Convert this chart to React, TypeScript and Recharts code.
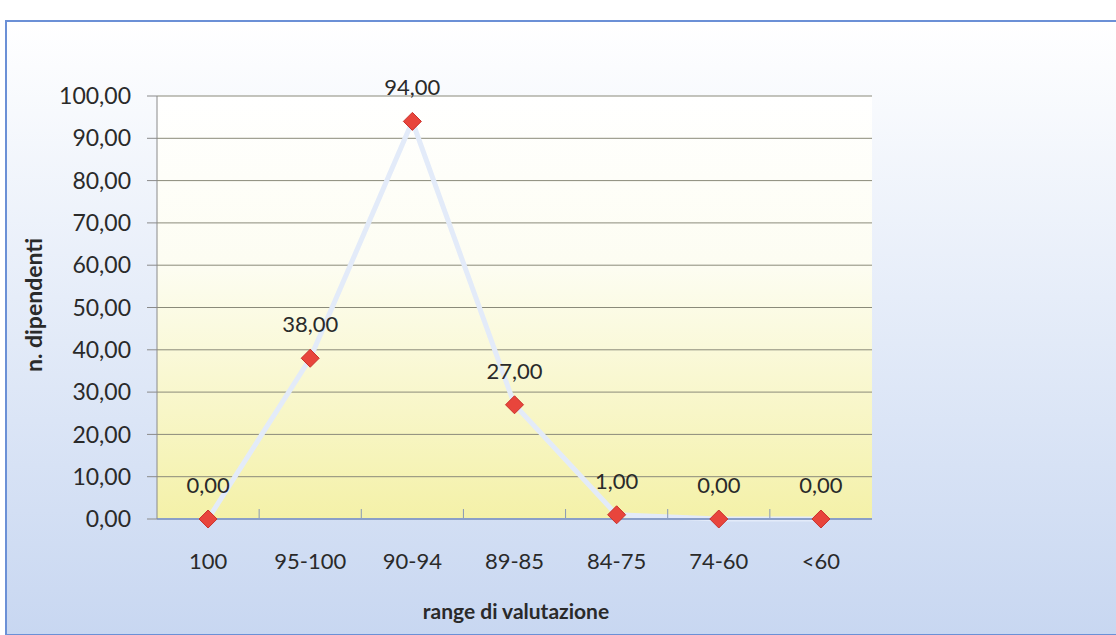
import React from 'react';
import { LineChart, Line, XAxis, YAxis, CartesianGrid, LabelList } from 'recharts';

// categories and values
const ranges = ['100', '95-100', '90-94', '89-85', '84-75', '74-60', '<60'];
const dipendenti = [0, 38, 94, 27, 1, 0, 0];
const yTicks = [0, 10, 20, 30, 40, 50, 60, 70, 80, 90, 100];
const boundaryTicks = [1, 2, 3, 4, 5, 6];

const data = ranges.map((r, i) => ({ range: r, value: dipendenti[i], pos: i + 0.5 }));

const FONT = 'Lato, "Open Sans", sans-serif';
const TEXT = '#2a2a2a';
const fmt = (v: number) => v.toFixed(2).replace('.', ',');

const Diamond = (props: any) => {
  const { cx, cy, index } = props;
  if (cx == null || cy == null) return null;
  const r = 9;
  return (
    <path
      key={`d-${index}`}
      d={`M${cx},${cy - r} L${cx + r},${cy} L${cx},${cy + r} L${cx - r},${cy} Z`}
      fill="#e8453c"
      stroke="#c9302a"
      strokeWidth={1}
    />
  );
};

const YTitle = () => (
  <text
    x={33}
    y={305}
    transform="rotate(-90 33 305)"
    textAnchor="middle"
    dominantBaseline="central"
    fill={TEXT}
    fontSize={23}
    fontWeight={700}
    fontFamily={FONT}
  >
    n. dipendenti
  </text>
);

const XTitle = () => (
  <text
    x={516}
    y={610}
    textAnchor="middle"
    dominantBaseline="central"
    fill={TEXT}
    fontSize={21}
    fontWeight={700}
    fontFamily={FONT}
  >
    range di valutazione
  </text>
);

export default function App() {
  return (
    <div style={{ position: 'fixed', left: 0, top: 0, width: 1116, height: 635, background: '#fff', overflow: 'hidden' }}>
      <div
        style={{
          position: 'absolute',
          left: 5,
          top: 20,
          width: 1120,
          height: 612,
          border: '2px solid #6b90d6',
          background: 'linear-gradient(to bottom, #ffffff 0%, #e6edf9 45%, #c8d7f1 100%)',
        }}
      />
      <LineChart
        width={1116}
        height={635}
        data={data}
        margin={{ top: 96, right: 244, bottom: 0, left: 0 }}
        style={{ position: 'absolute', left: 0, top: 0 }}
      >
        <defs>
          <linearGradient id="plotFill" x1="0" y1="0" x2="0" y2="1">
            <stop offset="0%" stopColor="#ffffff" />
            <stop offset="40%" stopColor="#fdfdf2" />
            <stop offset="100%" stopColor="#f4f1a8" />
          </linearGradient>
        </defs>
        <CartesianGrid
          vertical={false}
          fill="url(#plotFill)"
          stroke="#8a8a7a"
          strokeWidth={1}
          yAxisId="y"
          xAxisId="cat"
        />
        <XAxis
          xAxisId="ticks"
          type="number"
          dataKey="pos"
          domain={[0, 7]}
          ticks={boundaryTicks}
          height={1}
          mirror
          tickSize={10}
          tickFormatter={() => ''}
          axisLine={false}
          tickLine={{ stroke: '#8899b5' }}
        />
        <XAxis
          xAxisId="cat"
          dataKey="range"
          scale="band"
          height={116}
          tickLine={false}
          axisLine={{ stroke: '#8a9fc8', strokeWidth: 2 }}
          tick={{ fill: TEXT, fontSize: 22, fontFamily: FONT }}
          tickMargin={28}
          interval={0}
          label={<XTitle />}
        />
        <YAxis
          yAxisId="y"
          width={157}
          domain={[0, 100]}
          ticks={yTicks}
          tickFormatter={fmt}
          tick={{ fill: TEXT, fontSize: 23, fontFamily: FONT }}
          tickSize={10}
          tickMargin={16}
          tickLine={{ stroke: '#8a8a8a' }}
          axisLine={{ stroke: '#8a8a8a' }}
          label={<YTitle />}
        />
        <YAxis
          yAxisId="right"
          orientation="right"
          width={0}
          tick={false}
          axisLine={{ stroke: '#b8b88a' }}
        />
        <Line
          xAxisId="cat"
          yAxisId="y"
          dataKey="value"
          stroke="#e3ebf9"
          strokeWidth={5}
          dot={Diamond}
          activeDot={false}
          isAnimationActive={false}
        >
          <LabelList
            dataKey="value"
            position="top"
            offset={26}
            formatter={(v: any) => fmt(Number(v))}
            fill={TEXT}
            fontSize={22}
            fontFamily={FONT}
          />
        </Line>
      </LineChart>
    </div>
  );
}
